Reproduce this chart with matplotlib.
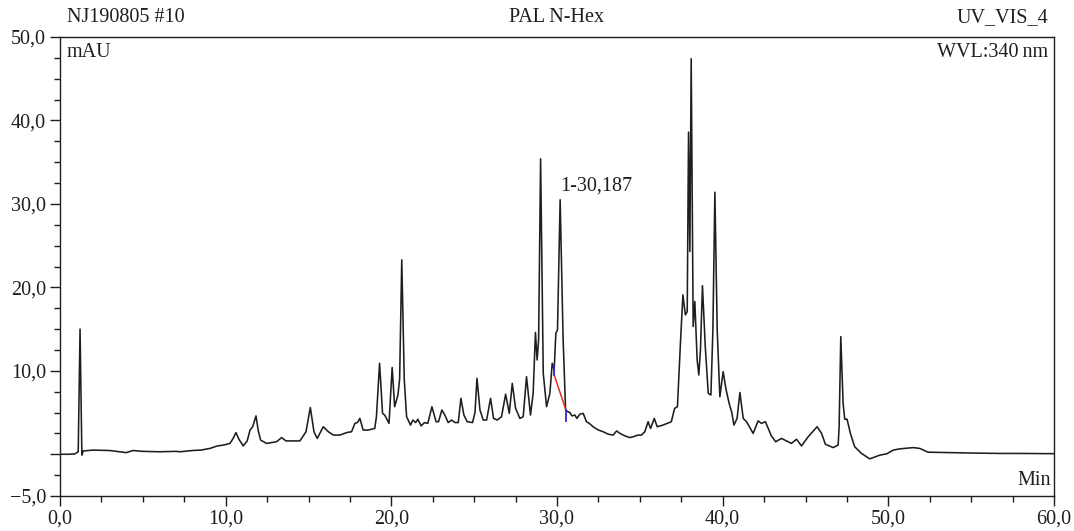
import matplotlib
matplotlib.use("Agg")
import matplotlib.pyplot as plt
from matplotlib.ticker import MultipleLocator, FixedLocator

# ---- data (time in min, absorbance in mAU) ----
time_min = [
    0.0, 0.5, 0.9, 1.1, 1.21, 1.32, 1.4, 2.0, 3.0, 4.0, 4.4, 5.0, 6.0, 7.0, 7.24, 8.0, 8.5,
    9.05, 9.5, 9.86, 10.26, 10.45, 10.62, 10.8, 11.06, 11.3, 11.47, 11.63, 11.83, 11.97,
    12.11, 12.47, 13.07, 13.38, 13.64, 14.48, 14.85, 15.11, 15.33, 15.53, 15.89, 16.2,
    16.5, 16.9, 17.3, 17.6, 17.8, 17.95, 18.1, 18.3, 18.6, 19.0, 19.1, 19.29, 19.47, 19.6,
    19.86, 20.05, 20.2, 20.4, 20.5, 20.63, 20.78, 20.92, 21.16, 21.3, 21.47, 21.6, 21.8,
    22.0, 22.2, 22.45, 22.7, 22.85, 23.05, 23.23, 23.43, 23.64, 23.84, 24.04, 24.2, 24.38,
    24.58, 24.9, 25.05, 25.17, 25.35, 25.55, 25.75, 25.99, 26.17, 26.4, 26.65, 26.9, 27.12,
    27.3, 27.5, 27.76, 27.96, 28.16, 28.4, 28.56, 28.7, 28.8, 28.89, 29.01, 29.17, 29.37,
    29.57, 29.71, 29.83, 29.93, 30.03, 30.19, 30.37, 30.52, 30.65, 30.78, 30.9, 31.08, 31.2,
    31.38, 31.58, 31.78, 31.95, 32.18, 32.5, 32.79, 33.1, 33.39, 33.6, 33.8, 34.1, 34.4,
    34.6, 34.9, 35.1, 35.3, 35.5, 35.65, 35.87, 36.05, 36.4, 36.9, 37.1, 37.27, 37.45,
    37.6, 37.75, 37.86, 37.94, 38.02, 38.1, 38.22, 38.32, 38.46, 38.56, 38.66, 38.78,
    38.95, 39.13, 39.29, 39.41, 39.53, 39.67, 39.83, 40.03, 40.19, 40.39, 40.55, 40.68,
    40.87, 41.04, 41.24, 41.44, 41.84, 42.14, 42.34, 42.58, 42.94, 43.2, 43.55, 44.15,
    44.46, 44.76, 45.16, 45.7, 45.97, 46.2, 46.67, 46.97, 47.03, 47.13, 47.27, 47.37,
    47.51, 47.71, 47.97, 48.38, 48.88, 49.49, 49.9, 50.29, 50.7, 51.5, 51.9, 52.4, 53.7,
    55.0, 56.7, 58.0, 60.0,
]
absorbance_mau = [
    0.0, 0.0, 0.05, 0.3, 15.0, -0.1, 0.4, 0.5, 0.45, 0.2, 0.45, 0.35, 0.3, 0.35, 0.3, 0.45, 0.5,
    0.7, 1.0, 1.1, 1.3, 1.9, 2.6, 1.8, 1.0, 1.6, 2.9, 3.3, 4.6, 2.8,
    1.7, 1.3, 1.5, 2.0, 1.6, 1.6, 2.7, 5.6, 2.7, 1.9, 3.3, 2.7,
    2.3, 2.3, 2.6, 2.7, 3.7, 3.8, 4.3, 2.9, 2.9, 3.1, 4.5, 10.9, 4.9, 4.7,
    3.7, 10.4, 5.7, 7.1, 9.0, 23.3, 9.0, 4.5, 3.5, 4.1, 3.8, 4.2, 3.4,
    3.8, 3.7, 5.7, 3.9, 3.9, 5.3, 4.7, 3.8, 4.1, 3.8, 3.8, 6.7, 4.7,
    3.9, 3.8, 5.0, 9.1, 5.3, 4.1, 4.1, 6.7, 4.3, 4.1, 4.5, 7.2, 4.9,
    8.5, 5.5, 4.3, 4.5, 9.3, 4.7, 7.3, 14.6, 11.3, 13.7, 35.4, 9.7, 5.7,
    7.3, 10.9, 10.1, 14.5, 14.9, 30.5, 13.7, 5.3, 5.1, 5.0, 4.6, 4.7, 4.3,
    4.8, 4.9, 3.9, 3.7, 3.3, 2.9, 2.7, 2.4, 2.3, 2.8, 2.5, 2.2, 2.0,
    2.1, 2.3, 2.3, 2.7, 3.9, 3.1, 4.3, 3.3, 3.5, 3.9, 5.5, 5.7, 13.3,
    19.1, 16.7, 17.1, 38.6, 24.3, 47.4, 15.3, 18.3, 11.3, 9.5, 12.5, 20.2,
    12.9, 7.3, 7.1, 14.9, 31.4, 14.9, 6.9, 9.9, 7.9, 6.1, 5.0, 3.5,
    4.3, 7.4, 4.3, 3.9, 2.5, 4.0, 3.7, 3.9, 2.2, 1.5, 1.9, 1.3,
    1.8, 1.0, 2.1, 3.3, 2.5, 1.2, 0.8, 1.1, 3.3, 14.1, 6.1, 4.2,
    4.2, 2.5, 0.9, 0.1, -0.55, -0.1, 0.05, 0.5, 0.65, 0.8, 0.7, 0.25, 0.2,
    0.15, 0.1, 0.1, 0.07,
]

# integration baseline of the labelled peak (start, end)
baseline_t = [29.83, 30.54]
baseline_v = [9.5, 5.3]
peak_label = "1-30,187"
peak_label_pos = (30.2, 32.2)

x_major = [0, 10, 20, 30, 40, 50, 60]
x_labels = ["0,0", "10,0", "20,0", "30,0", "40,0", "50,0", "60,0"]
y_major = [-5, 0, 10, 20, 30, 40, 50]
y_labels = ["\u22125,0", "", "10,0", "20,0", "30,0", "40,0", "50,0"]

plt.rcParams['font.family'] = ['Liberation Serif', 'DejaVu Serif']
FS = 14.5
ink = '#1e1e1e'

fig = plt.figure(figsize=(10.74, 5.31), dpi=100)
ax = fig.add_axes([60 / 1074, 1 - 496 / 531, (1054 - 60) / 1074, (496 - 37) / 531])

ax.plot(time_min, absorbance_mau, color=ink, lw=1.15, solid_joinstyle='round')

# integration baseline and delimiters
ax.plot(baseline_t, baseline_v, color='#e0301e', lw=1.1)
ax.plot([baseline_t[0], baseline_t[0]], [baseline_v[0], baseline_v[0] + 1.1], color='#2a2ad0', lw=1.3)
ax.plot([baseline_t[1], baseline_t[1]], [baseline_v[1], baseline_v[1] - 1.3], color='#2a2ad0', lw=1.3)
ax.text(peak_label_pos[0], peak_label_pos[1], peak_label, fontsize=FS, color=ink,
        ha='left', va='center')

ax.set_xlim(0, 60)
ax.set_ylim(-5, 50)
ax.xaxis.set_major_locator(FixedLocator(x_major))
ax.set_xticklabels(x_labels)
ax.xaxis.set_minor_locator(MultipleLocator(2.5))
ax.yaxis.set_major_locator(FixedLocator(y_major))
ax.set_yticklabels(y_labels)
ax.yaxis.set_minor_locator(MultipleLocator(2.5))
ax.tick_params(which='major', direction='out', length=7, width=1, color=ink,
               labelsize=FS, labelcolor=ink, pad=3)
ax.tick_params(which='minor', direction='out', length=4, width=1, color=ink)
for s in ax.spines.values():
    s.set_color(ink)
    s.set_linewidth(1.0)

# header texts
fig.text(67 / 1074, 1 - 18 / 531, "NJ190805 #10", fontsize=FS, color=ink, ha='left', va='center')
fig.text(557 / 1074, 1 - 18 / 531, "PAL N-Hex", fontsize=FS, color=ink, ha='center', va='center')
fig.text(1048 / 1074, 1 - 18 / 531, "UV_VIS_4", fontsize=FS, color=ink, ha='right', va='center')
ax.text(0.007, 0.988, "mAU", transform=ax.transAxes, fontsize=FS, color=ink, ha='left', va='top')
ax.text(0.994, 0.988, "WVL:340\u2009nm", transform=ax.transAxes, fontsize=FS, color=ink,
        ha='right', va='top')
ax.text(0.997, 0.012, "Min", transform=ax.transAxes, fontsize=FS, color=ink, ha='right', va='bottom')

fig.savefig("out.png", dpi=100)
